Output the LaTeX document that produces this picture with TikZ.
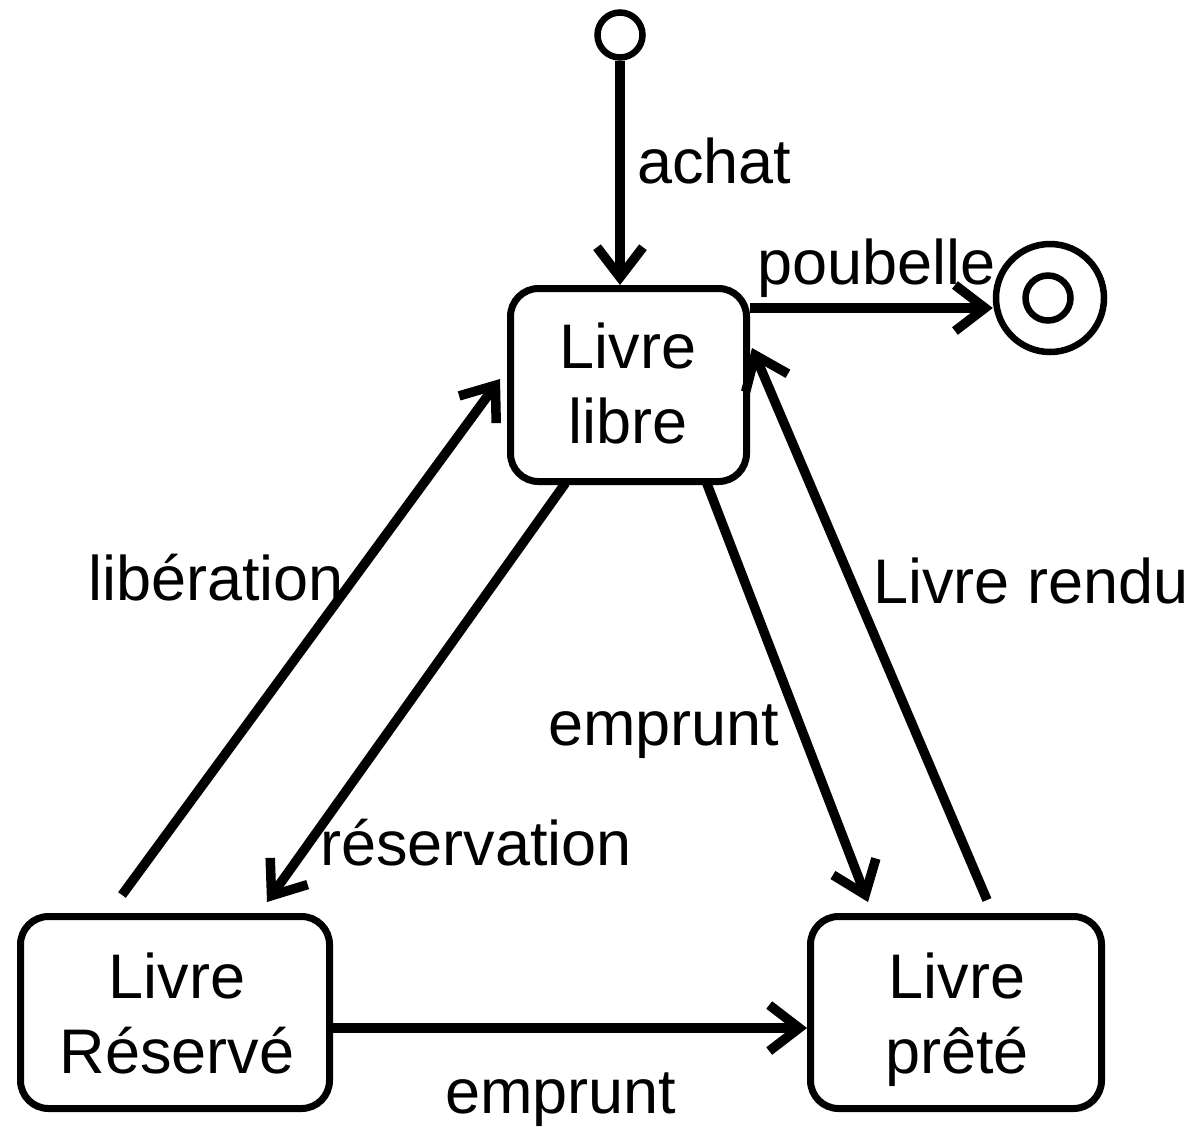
\documentclass[tikz,border=0pt]{standalone}
\usepackage{fontspec}
\setmainfont{Liberation Sans}
\usetikzlibrary{arrows.meta,calc}
\tikzset{
  statebox/.style={draw, line width=7pt, rounded corners=28pt, inner sep=0pt},
  lbl/.style={inner sep=0pt, anchor=base west, font=\fontsize{63}{74}\selectfont},
  boxtxt/.style={inner sep=0pt, anchor=base, font=\fontsize{63}{74}\selectfont},
  trans/.style={line width=9.5pt, -{Straight Barb[length=30pt,width=46pt]}},
  pseudo/.style={draw, circle, line width=6.5pt, inner sep=0pt},
}
\begin{document}
\begin{tikzpicture}[x=1pt,y=-1pt]
\useasboundingbox (0,0) rectangle (1198,1128);
% states
\node[statebox, minimum width=236pt, minimum height=193pt] (libre) at (628.5,385) {};
\node[statebox, minimum width=309pt, minimum height=192pt] (reserve) at (175,1012.5) {};
\node[statebox, minimum width=291pt, minimum height=192pt] (pret) at (956,1012.5) {};
\node[boxtxt] (t1) at (628,368) {Livre};
\node[boxtxt] (t2) at (628,443) {libre};
\node[boxtxt] (t3) at (177,998) {Livre};
\node[boxtxt] (t4) at (177,1073) {Réservé};
\node[boxtxt] (t5) at (957,998) {Livre};
\node[boxtxt] (t6) at (957,1073) {prêté};
% pseudo states
\node[pseudo, minimum size=45pt] (init) at (620,35) {};
\node[pseudo, minimum size=108pt] (fin) at (1050,298) {};
\node[pseudo, minimum size=45pt] (fininner) at (1048,298) {};
% transitions
\draw[trans] (init.south) -- (init.south |- libre.north);
\coordinate (ps) at ($(libre.north east)+(0,23)$);
\draw[trans] (ps) -- (ps -| fin.west);
\draw[trans] ($(reserve.north west)+(105,-18)$) -- ($(libre.west)+(-7,-6)$);
\draw[trans] ($(libre.south)+(-63,-2)$) -- ($(reserve.north)+(92,-11)$);
\draw[trans] ($(libre.south)+(77,-5)$) -- ($(pret.north)+(-88,-11)$);
\draw[trans] ($(pret.north)+(31,-13)$) -- ($(libre.east)+(2,-37)$);
\draw[trans] ($(reserve.east)+(0,15.5)$) -- ($(pret.west)+(0,15.5)$);
% labels
\node[lbl] (lachat) at (637,183) {achat};
\node[lbl] (lpoub) at (757,284) {poubelle};
\node[lbl] (llib) at (88,600) {libération};
\node[lbl] (lrendu) at (873,603) {Livre rendu};
\node[lbl] (lemp1) at (548,745) {emprunt};
\node[lbl] (lres) at (320,865) {réservation};
\node[lbl] (lemp2) at (445,1113) {emprunt};
\end{tikzpicture}
\end{document}
